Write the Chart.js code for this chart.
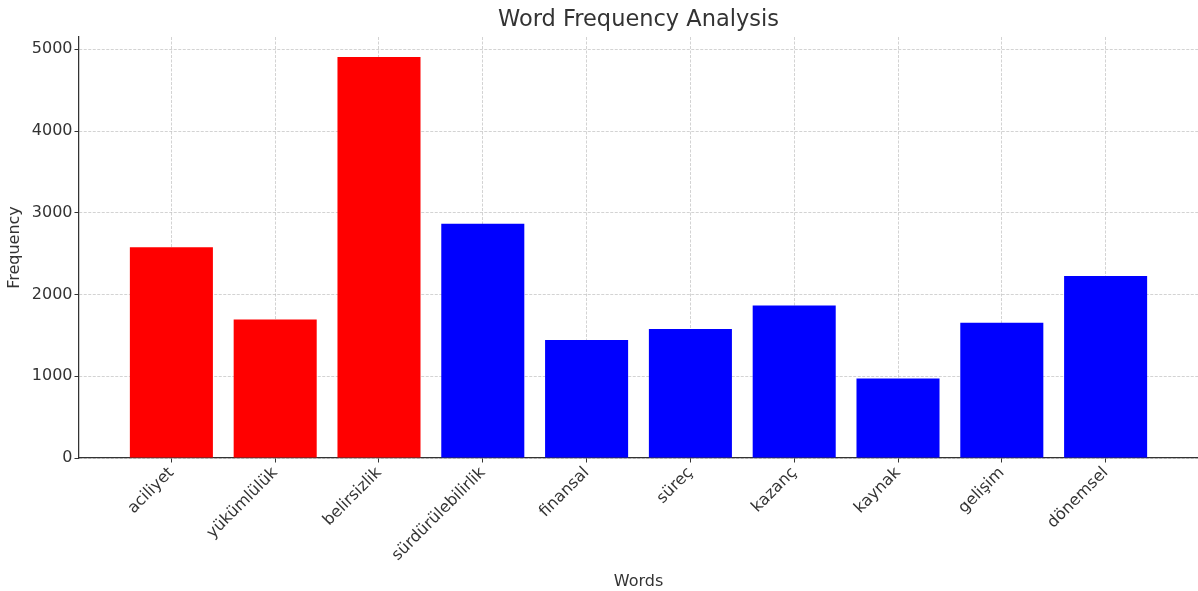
<!DOCTYPE html>
<html>
<head>
<meta charset="utf-8">
<style>
  html, body { margin: 0; padding: 0; background: #fff; }
  #wrap { width: 1198px; height: 591px; }
</style>
<script src="https://cdn.jsdelivr.net/npm/chart.js@4"></script>
</head>
<body>
<div id="wrap"><canvas id="chart" width="1198" height="591"></canvas></div>
<script>
var words = ['aciliyet', 'yükümlülük', 'belirsizlik', 'sürdürülebilirlik', 'finansal',
             'süreç', 'kazanç', 'kaynak', 'gelişim', 'dönemsel'];
var frequencies = [2577, 1695, 4906, 2866, 1443, 1577, 1866, 971, 1654, 2227];
var highlighted = ['aciliyet', 'yükümlülük', 'belirsizlik'];
var yTicks = [0, 1000, 2000, 3000, 4000, 5000];

var font = "'DejaVu Sans', sans-serif";
var textColor = '#333333';

var points = words.map(function (w, i) {
    return { x: i, y: frequencies[i] };
});
var colors = words.map(function (w) {
    return highlighted.indexOf(w) >= 0 ? '#ff0000' : '#0000ff';
});

// dashed grid, solid dark tick marks
var gridOpts = {
    offset: false,
    color: 'rgba(176,176,176,0.7)',
    lineWidth: 0.8,
    tickColor: textColor,
    tickBorderDash: [],
    tickWidth: 1,
    tickLength: 4.5
};
var borderOpts = { display: true, color: textColor, width: 1.25, dash: [3, 1.5] };

new Chart(document.getElementById('chart'), {
    type: 'bar',
    data: {
        datasets: [{
            label: 'Frequency',
            data: points,
            backgroundColor: colors,
            borderWidth: 0,
            barPercentage: 0.8,
            categoryPercentage: 1
        }]
    },
    options: {
        responsive: false,
        animation: false,
        layout: { padding: 0 },
        plugins: {
            legend: { display: false },
            tooltip: { enabled: false },
            title: {
                display: true,
                fullSize: false,
                text: 'Word Frequency Analysis',
                color: textColor,
                font: { family: font, size: 22.5, weight: 'normal' },
                padding: { top: 7, bottom: 3 }
            }
        },
        scales: {
            x: {
                type: 'linear',
                min: -0.89,
                max: 9.89,
                z: 1,
                offset: false,
                grid: gridOpts,
                border: borderOpts,
                afterBuildTicks: function (scale) {
                    scale.ticks = words.map(function (w, i) { return { value: i }; });
                },
                afterFit: function (scale) { scale.height = 133; },
                ticks: {
                    minRotation: 45,
                    maxRotation: 45,
                    padding: 1,
                    color: textColor,
                    font: { family: font, size: 16 },
                    callback: function (v) { return words[v]; }
                },
                title: {
                    display: true,
                    text: 'Words',
                    color: textColor,
                    font: { family: font, size: 16 },
                    padding: { top: 0, bottom: 0 }
                }
            },
            y: {
                min: 0,
                max: 5150,
                z: 1,
                grid: gridOpts,
                border: borderOpts,
                afterBuildTicks: function (scale) {
                    scale.ticks = yTicks.map(function (v) { return { value: v }; });
                },
                afterFit: function (scale) { scale.width = 79; },
                ticks: {
                    padding: 2,
                    color: textColor,
                    font: { family: font, size: 16 },
                    callback: function (v) { return String(v); }
                },
                title: {
                    display: true,
                    text: 'Frequency',
                    color: textColor,
                    font: { family: font, size: 16 },
                    padding: { top: 5, bottom: 0 }
                }
            }
        }
    }
});
</script>
</body>
</html>
